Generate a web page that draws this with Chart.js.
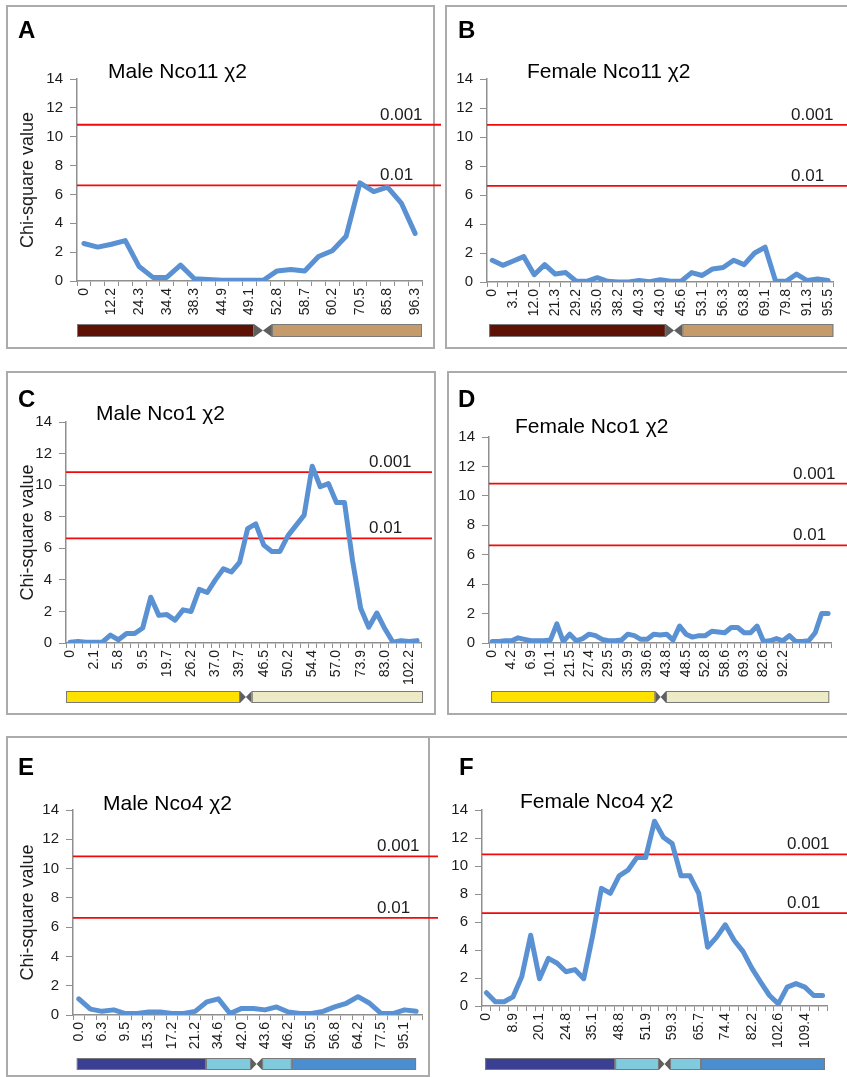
<!DOCTYPE html>
<html>
<head>
<meta charset="utf-8">
<title>Chi-square segregation scans</title>
<script src="https://cdn.jsdelivr.net/npm/chart.js@4.4.1/dist/chart.umd.min.js"></script>
<style>
  html, body { margin: 0; padding: 0; background: #fff; }
  #page { position: relative; width: 847px; height: 1077px; overflow: hidden; background: #fff; }
  .box { position: absolute; border: 2px solid #ababab; box-sizing: border-box; }
  canvas { position: absolute; }
</style>
</head>
<body>
<div id="page"></div>
<script>
// chi-square thresholds (1 df) for p = 0.001 and p = 0.01
const thresholds = [10.83, 6.63];
const thresholdLabels = ["0.001", "0.01"];
const yMax = 14;
const yStep = 2;

// A - male Nco11
const maleNco11Ticks = ["0", "12.2", "24.3", "34.4", "38.3", "44.9", "49.1", "52.8", "58.7", "60.2", "70.5", "85.8", "96.3"];
const maleNco11 = [2.6, 2.35, 2.55, 2.8, 1.0, 0.25, 0.25, 1.1, 0.15, 0.1, 0.05, 0.05, 0.05, 0.05, 0.7, 0.8, 0.7, 1.7, 2.1, 3.1, 6.8, 6.2, 6.5, 5.4, 3.3];

// B - female Nco11
const femaleNco11Ticks = ["0", "3.1", "12.0", "21.3", "29.2", "35.0", "38.2", "40.3", "43.0", "45.6", "53.1", "56.3", "63.8", "69.1", "79.8", "91.3", "95.5"];
const femaleNco11 = [1.5, 1.15, 1.45, 1.75, 0.5, 1.2, 0.55, 0.65, 0.05, 0.05, 0.3, 0.05, 0, 0, 0.1, 0.02, 0.15, 0.05, 0.05, 0.65, 0.45, 0.9, 1.0, 1.5, 1.2, 2.0, 2.4, 0.05, 0.05, 0.55, 0.1, 0.2, 0.1];

// C - male Nco1
const maleNco1Ticks = ["0", "2.1", "5.8", "9.5", "19.7", "26.2", "37.0", "39.7", "46.5", "50.2", "54.4", "57.0", "73.9", "83.0", "102.2"];
const maleNco1 = [0.05, 0.1, 0.05, 0.05, 0.05, 0.5, 0.2, 0.6, 0.6, 0.95, 2.9, 1.75, 1.8, 1.45, 2.1, 2.0, 3.4, 3.2, 4.0, 4.7, 4.5, 5.1, 7.25, 7.55, 6.2, 5.8, 5.8, 6.8, 7.45, 8.1, 11.2, 9.9, 10.1, 8.9, 8.9, 5.2, 2.2, 1.0, 1.9, 0.9, 0.05, 0.15, 0.1, 0.15];

// D - female Nco1
const femaleNco1Ticks = ["0", "4.2", "6.9", "10.1", "21.5", "27.4", "29.5", "35.9", "39.6", "43.8", "48.5", "52.8", "58.6", "69.3", "82.6", "92.2"];
const femaleNco1 = [0.1, 0.1, 0.15, 0.15, 0.35, 0.25, 0.15, 0.15, 0.15, 0.2, 1.3, 0.1, 0.6, 0.15, 0.3, 0.6, 0.5, 0.25, 0.15, 0.15, 0.2, 0.6, 0.5, 0.25, 0.25, 0.6, 0.55, 0.6, 0.2, 1.15, 0.6, 0.4, 0.5, 0.5, 0.8, 0.75, 0.7, 1.05, 1.05, 0.7, 0.7, 1.15, 0.1, 0.15, 0.3, 0.15, 0.5, 0.1, 0.1, 0.15, 0.7, 2.0, 2.0];

// E - male Nco4
const maleNco4Ticks = ["0.0", "6.3", "9.5", "15.3", "17.2", "21.2", "34.6", "42.0", "43.6", "46.2", "50.5", "56.8", "64.2", "77.5", "95.1"];
const maleNco4 = [1.1, 0.4, 0.25, 0.35, 0.1, 0.1, 0.2, 0.2, 0.1, 0.1, 0.25, 0.9, 1.1, 0.1, 0.45, 0.45, 0.35, 0.55, 0.2, 0.1, 0.1, 0.25, 0.55, 0.8, 1.25, 0.8, 0.1, 0.1, 0.35, 0.25];

// F - female Nco4
const femaleNco4Ticks = ["0", "8.9", "20.1", "24.8", "35.1", "48.8", "51.9", "59.3", "65.7", "74.4", "82.2", "102.6", "109.4"];
const femaleNco4 = [0.95, 0.3, 0.3, 0.65, 2.1, 5.05, 1.95, 3.4, 3.05, 2.45, 2.6, 1.95, 5.0, 8.4, 8.05, 9.3, 9.7, 10.6, 10.6, 13.2, 12.05, 11.6, 9.3, 9.3, 8.05, 4.2, 4.9, 5.8, 4.7, 3.9, 2.7, 1.7, 0.75, 0.15, 1.35, 1.6, 1.35, 0.75, 0.75];

const FONT = "'Liberation Sans', Arial, sans-serif";
const TEXT = "#1c1c1c";
const AXIS = "#8f8f8f";
const XH = 44; // height of the category axis

// chromosome colours
const MAROON = "#5e1205", TAN = "#c59b6b";
const YELLOW = "#ffe100", CREAM = "#ecebc6";
const NAVY = "#3b3f93", CYAN = "#7fcadc", BLUE = "#4a8ed0";

// page layout: box, canvas and plot area as [x0, y0, x1, y1]; bar segments as fractions of plot width
const panels = [
  { letter: "A", title: "Male Nco11 \u03c72", values: maleNco11, ticks: maleNco11Ticks, every: 2, yTitle: true,
    box: [6, 5, 435, 349], canvas: [8, 7, 444, 347], area: [77, 79, 422, 281],
    letterAt: [18, 38], titleAt: [108, 78], thrX: 380, lineEnd: 441, barY: [324, 337],
    bars: [[0, 0.513, MAROON], [0.513, 0.565, null], [0.565, 1.0, TAN]] },
  { letter: "B", title: "Female Nco11 \u03c72", values: femaleNco11, ticks: femaleNco11Ticks, every: 2, yTitle: false,
    box: [445, 5, 870, 349], canvas: [447, 7, 847, 347], area: [487, 79, 840, 282],
    letterAt: [458, 38], titleAt: [527, 78], thrX: 791, lineEnd: 847, barY: [324, 337],
    bars: [[0.006, 0.516, MAROON], [0.516, 0.564, null], [0.564, 1.0, TAN]] },
  { letter: "C", title: "Male Nco1 \u03c72", values: maleNco1, ticks: maleNco1Ticks, every: 3, yTitle: true,
    box: [6, 371, 436, 715], canvas: [8, 373, 436, 713], area: [66, 422, 433, 643],
    letterAt: [18, 407], titleAt: [96, 420], thrX: 369, lineEnd: 432, barY: [691, 703],
    bars: [[0, 0.49, YELLOW], [0.49, 0.523, null], [0.523, 1.005, CREAM]] },
  { letter: "D", title: "Female Nco1 \u03c72", values: femaleNco1, ticks: femaleNco1Ticks, every: 3, yTitle: false,
    box: [447, 371, 870, 715], canvas: [449, 373, 847, 713], area: [489, 437, 837, 643],
    letterAt: [458, 407], titleAt: [515, 433], thrX: 793, lineEnd: 847, barY: [691, 703],
    bars: [[0.006, 0.486, YELLOW], [0.486, 0.517, null], [0.517, 0.994, CREAM]] },
  { letter: "E", title: "Male Nco4 \u03c72", values: maleNco4, ticks: maleNco4Ticks, every: 2, yTitle: true,
    box: [6, 736, 430, 1077], canvas: [8, 738, 440, 1077], area: [73, 810, 422, 1015],
    letterAt: [18, 775], titleAt: [103, 810], thrX: 377, lineEnd: 438, barY: [1058, 1070],
    bars: [[0.011, 0.381, NAVY], [0.381, 0.51, CYAN], [0.51, 0.542, null], [0.542, 0.627, CYAN], [0.627, 0.983, BLUE]] },
  { letter: "F", title: "Female Nco4 \u03c72", values: femaleNco4, ticks: femaleNco4Ticks, every: 3, yTitle: false,
    box: [428, 736, 870, 1095], canvas: [430, 738, 847, 1077], area: [482, 810, 827, 1006],
    letterAt: [459, 775], titleAt: [520, 808], thrX: 787, lineEnd: 847, barY: [1058, 1070],
    bars: [[0.009, 0.386, NAVY], [0.386, 0.513, CYAN], [0.513, 0.545, null], [0.545, 0.635, CYAN], [0.635, 0.994, BLUE]] },
];

const decor = {
  id: "decor",
  beforeDatasetsDraw(chart) {
    const p = chart.config.options.panel;
    const { ctx, chartArea, scales } = chart;
    const ox = p.canvas[0];
    ctx.save();
    ctx.strokeStyle = "#f20a0a";
    ctx.lineWidth = 1.8;
    thresholds.forEach((t) => {
      const y = scales.y.getPixelForValue(t);
      ctx.beginPath();
      ctx.moveTo(chartArea.left, y);
      ctx.lineTo(p.lineEnd - ox, y);
      ctx.stroke();
    });
    ctx.restore();
  },
  afterDraw(chart) {
    const p = chart.config.options.panel;
    const { ctx, chartArea, scales } = chart;
    const ox = p.canvas[0], oy = p.canvas[1];
    ctx.save();
    ctx.fillStyle = TEXT;
    ctx.textAlign = "left";
    ctx.textBaseline = "alphabetic";
    ctx.font = "17px " + FONT;
    thresholds.forEach((t, i) => {
      ctx.fillText(thresholdLabels[i], p.thrX - ox, scales.y.getPixelForValue(t) - 5);
    });
    ctx.fillStyle = "#000";
    ctx.font = "bold 24px " + FONT;
    ctx.fillText(p.letter, p.letterAt[0] - ox, p.letterAt[1] - oy);
    ctx.font = "21px " + FONT;
    ctx.fillText(p.title, p.titleAt[0] - ox, p.titleAt[1] - oy);

    // chromosome ideogram under the axis
    const w = chartArea.right - chartArea.left;
    const y0 = p.barY[0] - oy, y1 = p.barY[1] - oy, ym = (y0 + y1) / 2;
    p.bars.forEach(([a, b, fill]) => {
      const x0 = chartArea.left + a * w, x1 = chartArea.left + b * w;
      if (fill) {
        ctx.fillStyle = fill;
        ctx.fillRect(x0, y0, x1 - x0, y1 - y0);
        ctx.strokeStyle = "#7a7a7a";
        ctx.lineWidth = 1;
        ctx.strokeRect(x0 + 0.5, y0 + 0.5, x1 - x0 - 1, y1 - y0 - 1);
      } else {
        const xm = (x0 + x1) / 2;
        ctx.fillStyle = "#5f5f5f";
        ctx.beginPath();
        ctx.moveTo(x0, y0); ctx.lineTo(xm, ym); ctx.lineTo(x0, y1); ctx.closePath();
        ctx.moveTo(x1, y0); ctx.lineTo(xm, ym); ctx.lineTo(x1, y1); ctx.closePath();
        ctx.fill();
      }
    });
    ctx.restore();
  },
};

const page = document.getElementById("page");

panels.forEach((p) => {
  const box = document.createElement("div");
  box.className = "box";
  box.style.left = p.box[0] + "px";
  box.style.top = p.box[1] + "px";
  box.style.width = (p.box[2] - p.box[0]) + "px";
  box.style.height = (p.box[3] - p.box[1]) + "px";
  page.appendChild(box);
});

panels.forEach((p) => {
  const cv = document.createElement("canvas");
  const W = p.canvas[2] - p.canvas[0], H = p.canvas[3] - p.canvas[1];
  cv.width = W;
  cv.height = H;
  cv.style.left = p.canvas[0] + "px";
  cv.style.top = p.canvas[1] + "px";
  cv.style.width = W + "px";
  cv.style.height = H + "px";
  page.appendChild(cv);

  const labels = p.values.map((v, i) => (i % p.every === 0 ? (p.ticks[i / p.every] ?? "") : ""));
  const yw = p.area[0] - p.canvas[0];

  new Chart(cv, {
    type: "line",
    data: {
      labels: labels,
      datasets: [
        {
          label: "Chi-square",
          data: p.values,
          borderColor: "#5a91d2",
          borderWidth: 5,
          borderJoinStyle: "round",
          borderCapStyle: "round",
          pointRadius: 0,
          tension: 0,
          fill: false,
        },
      ],
    },
    options: {
      panel: p,
      responsive: false,
      animation: false,
      events: [],
      layout: {
        padding: {
          left: 0,
          top: p.area[1] - p.canvas[1],
          right: p.canvas[2] - p.area[2],
          bottom: p.canvas[3] - p.area[3] - XH,
        },
      },
      scales: {
        x: {
          type: "category",
          offset: true,
          grid: { offset: true, drawOnChartArea: false, tickLength: 5, color: AXIS, lineWidth: 1 },
          border: { color: AXIS, width: 1.5 },
          ticks: {
            autoSkip: false,
            minRotation: 90,
            maxRotation: 90,
            padding: 2,
            color: TEXT,
            font: { family: FONT, size: 14 },
          },
          afterFit: (s) => { s.height = XH; },
        },
        y: {
          min: 0,
          max: yMax,
          ticks: { stepSize: yStep, padding: 7, color: TEXT, font: { family: FONT, size: 15 } },
          grid: { drawOnChartArea: false, tickLength: 7, color: AXIS, lineWidth: 1 },
          border: { color: AXIS, width: 1.5 },
          title: {
            display: p.yTitle,
            text: "Chi-square value",
            color: TEXT,
            font: { family: FONT, size: 18 },
            padding: { top: 9, bottom: 0 },
          },
          afterFit: (s) => { s.width = yw; },
        },
      },
      plugins: {
        legend: { display: false },
        tooltip: { enabled: false },
      },
    },
    plugins: [decor],
  });
});
</script>
</body>
</html>
